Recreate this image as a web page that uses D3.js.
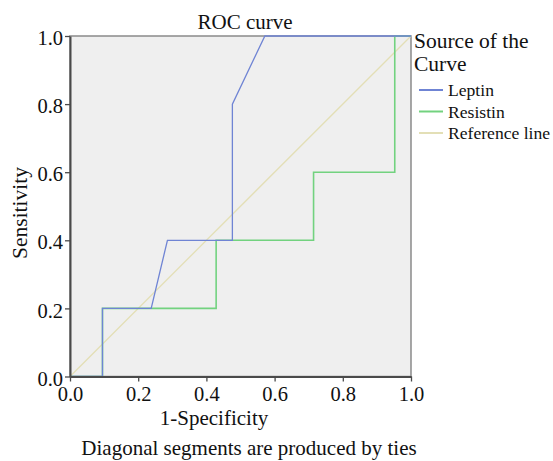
<!DOCTYPE html>
<html><head><meta charset="utf-8">
<script src="https://cdn.jsdelivr.net/npm/d3@7"></script>
</head><body>
<script>
const xTicks = [0, 0.2, 0.4, 0.6, 0.8, 1.0];
const yTicks = [0, 0.2, 0.4, 0.6, 0.8, 1.0];
const leptinFpr = [0, 2/21, 2/21, 5/21, 6/21, 10/21, 10/21, 12/21, 1];
const leptinTpr = [0, 0, 0.2, 0.2, 0.4, 0.4, 0.8, 1.0, 1.0];
const resistinFpr = [0, 2/21, 2/21, 9/21, 9/21, 15/21, 15/21, 20/21, 20/21, 1];
const resistinTpr = [0, 0, 0.2, 0.2, 0.4, 0.4, 0.6, 0.6, 1.0, 1.0];
const refFpr = [0, 1];
const refTpr = [0, 1];
const legendNames = ["Leptin", "Resistin", "Reference line"];
const colors = ["#6f84d4", "#72d27f", "#e3dfb6"];
const FONT = '"Liberation Serif"';

d3.select("body").style("margin", "0px");
const W = 553, H = 461;
const svg = d3.select("body").append("svg").attr("width", W).attr("height", H).style("display", "block");
const L = 70, R = 411, T = 36, B = 376.5;
const x = d3.scaleLinear().domain([0, 1]).range([L, R]);
const y = d3.scaleLinear().domain([0, 1]).range([B, T]);

svg.append("rect").attr("x", L).attr("y", T).attr("width", R - L).attr("height", B - T)
  .attr("fill", "#efefef").attr("stroke", "#8a8a8a").attr("stroke-width", 1.5);

const line = d3.line().x(d => x(d[0])).y(d => y(d[1]));
const series = [
  [refFpr, refTpr, colors[2], 1.3],
  [resistinFpr, resistinTpr, colors[1], 1.6],
  [leptinFpr, leptinTpr, colors[0], 1.3]
];
series.forEach(([xs, ys, c, w]) => {
  svg.append("path").datum(xs.map((v, i) => [v, ys[i]]))
    .attr("d", line).attr("fill", "none").attr("stroke", c).attr("stroke-width", w);
});

const xa = svg.append("g").attr("transform", `translate(0,${B})`)
  .call(d3.axisBottom(x).tickValues(xTicks).tickFormat(d3.format(".1f")).tickSize(5).tickSizeOuter(0));
const ya = svg.append("g").attr("transform", `translate(${L},0)`)
  .call(d3.axisLeft(y).tickValues(yTicks).tickFormat(d3.format(".1f")).tickSize(5).tickSizeOuter(0));
[xa, ya].forEach(a => {
  a.attr("font-family", "Liberation Serif").attr("font-size", 20);
  a.select(".domain").attr("stroke", "#4a4a4a").attr("stroke-width", 2);
  a.selectAll(".tick line").attr("stroke", "#4a4a4a").attr("stroke-width", 1.3);
  a.selectAll("text").style("font-family", FONT).attr("font-size", 20.5).attr("fill", "#111");
});
xa.selectAll("text").attr("dy", "0").attr("y", 24);
ya.selectAll("text").attr("x", -7).attr("dy", "0.42em");

function txt(xp, yp, s, size, anchor) {
  return svg.append("text").attr("x", xp).attr("y", yp).attr("text-anchor", anchor || "start")
    .style("font-family", FONT).attr("font-size", size).attr("fill", "#111").text(s);
}
txt(245, 29, "ROC curve", 21, "middle");
txt(0, 0, "Sensitivity", 21.5, "middle").attr("transform", `translate(27,213) rotate(-90)`);
txt(214, 425, "1-Specificity", 21, "middle");
txt(249, 455, "Diagonal segments are produced by ties", 21, "middle");

txt(414, 48, "Source of the", 21.5);
txt(414, 71, "Curve", 21.5);
legendNames.forEach((n, i) => {
  const yy = 90 + i * 21.5;
  svg.append("line").attr("x1", 419).attr("x2", 443).attr("y1", yy).attr("y2", yy)
    .attr("stroke", colors[i]).attr("stroke-width", 2);
  txt(448, yy + 6, n, 17.6);
});
</script>
</body></html>
